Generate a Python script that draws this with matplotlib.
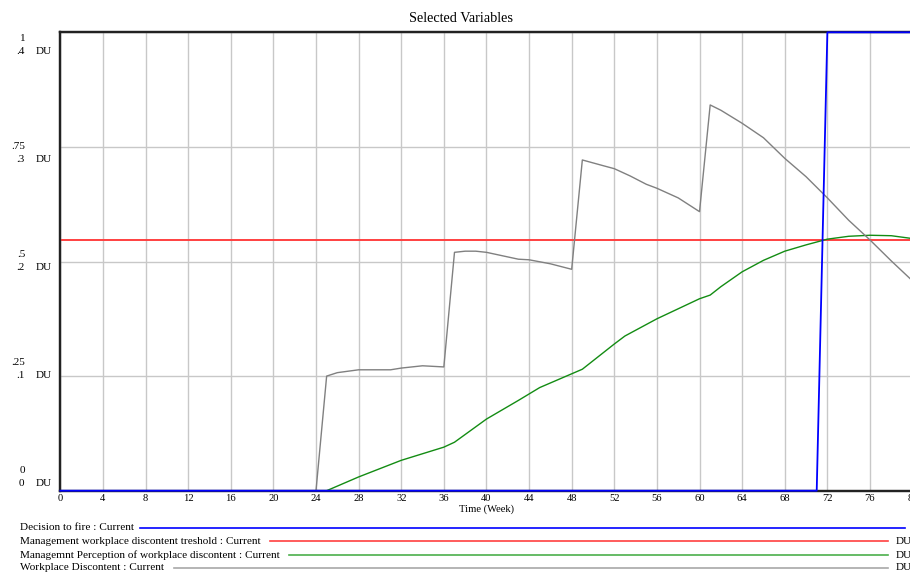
import matplotlib
matplotlib.use("Agg")
import matplotlib.pyplot as plt
from matplotlib.lines import Line2D

plt.rcParams['font.family'] = ['Liberation Serif', 'DejaVu Serif']

# ---------------- data ----------------
title = "Selected Variables"
x_label = "Time (Week)"
x_ticks = list(range(0, 81, 4))
left_ticks_du = [0, 0.1, 0.2, 0.3, 0.4]
left_labels_du = ["0", ".1", ".2", ".3", ".4"]
left_labels_fire = ["0", ".25", ".5", ".75", "1"]
unit = "DU"

fire_t = [0, 71, 72, 80]
fire_v = [0, 0, 1, 1]

threshold_t = [0, 80]
threshold_v = [0.219, 0.219]

perception_t = [0, 25, 28, 32, 36, 37, 40, 43, 45, 49, 52, 53, 56, 60, 61,
                62, 64, 66, 68, 70, 72, 74, 76, 78, 80]
perception_v = [0, 0, 0.012, 0.0265, 0.038, 0.0423, 0.0625, 0.0788, 0.090,
                0.106, 0.128, 0.135, 0.150, 0.1675, 0.1707, 0.178, 0.191,
                0.201, 0.209, 0.2145, 0.2195, 0.222, 0.2229, 0.2225, 0.2200]

discontent_t = [0, 24, 25, 26, 28, 31, 32, 34, 36, 37, 38, 39, 40, 41, 43,
                44, 46, 48, 49, 51, 52, 53.5, 55, 56, 58, 60, 61, 62, 64, 66,
                68, 70, 72, 74, 76, 78, 80]
discontent_v = [0, 0, 0.100, 0.103, 0.1055, 0.1055, 0.107, 0.109, 0.108,
                0.208, 0.209, 0.209, 0.208, 0.206, 0.202, 0.2015, 0.198,
                0.1932, 0.2886, 0.2835, 0.2810, 0.2746, 0.2674, 0.2639,
                0.2555, 0.2435, 0.3366, 0.332, 0.3206, 0.308, 0.290, 0.274,
                0.2555, 0.236, 0.2188, 0.2005, 0.183]

legend_names = ["Decision to fire : Current",
                "Management workplace discontent treshold : Current",
                "Managemnt Perception of workplace discontent : Current",
                "Workplace Discontent : Current"]
legend_units = ["", "DU", "DU", "DU"]

# ---------------- figure ----------------
W, H = 910, 574
fig = plt.figure(figsize=(W / 100, H / 100), dpi=100)
ax_l, ax_b, ax_w, ax_h = 60.3, 490.7, 852.3, 458.4
ax = fig.add_axes([ax_l / W, 1 - ax_b / H, ax_w / W, ax_h / H])
ax2 = ax.twinx()

ax.set_xlim(0, 80)
ax.set_ylim(0, 0.4)
ax2.set_ylim(0, 1)

grid_c = "#c8c8c8"
ax.set_xticks(x_ticks)
ax.set_xticklabels([str(t) for t in x_ticks], fontsize=7.6)
ax.set_yticks(left_ticks_du)
ax.set_yticklabels([])
ax.tick_params(axis='both', length=0)
ax.tick_params(axis='x', pad=2.2)
ax2.set_yticks([])
ax.grid(True, color=grid_c, linewidth=1.0)
ax.set_axisbelow(True)

for a in (ax, ax2):
    a.spines['right'].set_visible(False)
    a.spines['top'].set_linewidth(1.6)
    a.spines['left'].set_linewidth(1.6)
    a.spines['bottom'].set_linewidth(1.6)
    for s in a.spines.values():
        s.set_color("#222222")

ax.set_xlabel(x_label, fontsize=7.6, labelpad=1.5)

col_fire = "#0000ff"
col_thr = "#ff4040"
col_per = "#138c13"
col_dis = "#808080"

ax.plot(threshold_t, threshold_v, color=col_thr, lw=1.4, clip_on=False, zorder=3)
ax.plot(perception_t, perception_v, color=col_per, lw=1.0, zorder=3)
ax.plot(discontent_t, discontent_v, color=col_dis, lw=1.0, zorder=3)
ax2.plot(fire_t, fire_v, color=col_fire, lw=1.3, clip_on=False, zorder=4)

# y labels (two scales stacked)
n = len(left_ticks_du)
for i, (v, lab_du, lab_f) in enumerate(zip(left_ticks_du, left_labels_du,
                                           left_labels_fire)):
    k = n - 1 - i  # 0 at top
    up = 6 - 6.5 * k
    ax.annotate(lab_f, xy=(0, v), xycoords=('axes fraction', 'data'),
                xytext=(-35, -up), textcoords='offset pixels',
                ha='right', va='center', fontsize=8)
    ax.annotate(lab_du, xy=(0, v), xycoords=('axes fraction', 'data'),
                xytext=(-36, -(up + 13)), textcoords='offset pixels',
                ha='right', va='center', fontsize=8)
    ax.annotate(unit, xy=(0, v), xycoords=('axes fraction', 'data'),
                xytext=(-25, -(up + 13)), textcoords='offset pixels',
                ha='left', va='center', fontsize=8)

fig.text(461 / W, 1 - 18 / H, title, ha='center', va='center', fontsize=10.3)

# legend
rows_y = [528, 541, 555, 568]
line_start = [140, 270, 289, 174]
line_end = [905, 888, 888, 888]
leg_cols = [col_fire, col_thr, "#4caf4c", "#a8a8a8"]
for name, u, yy, xs, xe, c in zip(legend_names, legend_units, rows_y,
                                  line_start, line_end, leg_cols):
    fig.text(20 / W, 1 - yy / H, name, ha='left', va='center', fontsize=8.1)
    fig.add_artist(Line2D([xs / W, xe / W], [1 - yy / H, 1 - yy / H],
                          transform=fig.transFigure, color=c, lw=1.2))
    if u:
        fig.text(896 / W, 1 - yy / H, u, ha='left', va='center', fontsize=8.1)

fig.savefig("out.png", dpi=100)
